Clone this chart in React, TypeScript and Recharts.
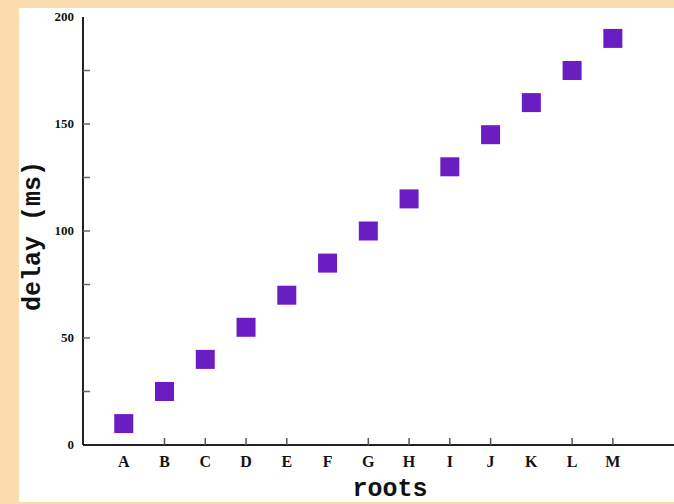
import { ScatterChart, Scatter, XAxis, YAxis } from "recharts";

// categories and measured delay (ms)
const roots = ["A", "B", "C", "D", "E", "F", "G", "H", "I", "J", "K", "L", "M"];
const delays = [10, 25, 40, 55, 70, 85, 100, 115, 130, 145, 160, 175, 190];

// axis ticks
const xTicks = [1, 2, 3, 4, 5, 6, 7, 8, 9, 10, 11, 12, 13];
const xTickMarks = ["B", "C", "D", "E", "G", "H", "I", "J", "L", "M"];
const yTicks = [0, 25, 50, 75, 100, 125, 150, 175, 200];
const yLabels = [0, 50, 100, 150, 200];

const data = roots.map((r, i) => ({ x: i + 1, y: delays[i], name: r }));

const AXIS = "#222";
const MARK = "#6a1dc2";

function BottomTick(props: any) {
  const { x, y, payload } = props;
  const name = roots[payload.value - 1];
  return (
    <g>
      {xTickMarks.includes(name) && (
        <line x1={x} x2={x} y1={y} y2={y - 7} stroke="#555" strokeWidth={1.5} />
      )}
      <text
        x={x}
        y={y + 22}
        textAnchor="middle"
        fontFamily="'Liberation Serif', serif"
        fontWeight="bold"
        fontSize={16}
        fill="#111"
      >
        {name}
      </text>
    </g>
  );
}

function TopTick(props: any) {
  const { x, y, payload } = props;
  const name = roots[payload.value - 1];
  if (!xTickMarks.includes(name)) return <g />;
  return <line x1={x} x2={x} y1={y} y2={y + 7} stroke="#555" strokeWidth={1.5} />;
}

function LeftTick(props: any) {
  const { x, y, payload } = props;
  const v = payload.value;
  return (
    <g>
      {v > 0 && v < 200 && (
        <line x1={x} x2={x + 7} y1={y} y2={y} stroke="#666" strokeWidth={1.5} />
      )}
      {yLabels.includes(v) && (
        <text
          x={x - 9}
          y={y + 4}
          textAnchor="end"
          fontFamily="'Liberation Serif', serif"
          fontWeight="bold"
          fontSize={13}
          fill="#111"
        >
          {v}
        </text>
      )}
    </g>
  );
}

function YTitle() {
  return (
    <text
      x={40}
      y={236}
      transform="rotate(-90 40 236)"
      textAnchor="middle"
      fontFamily="'Liberation Mono', monospace"
      fontWeight="bold"
      fontSize={25}
      fill="#111"
    >
      delay (ms)
    </text>
  );
}

function XTitle() {
  return (
    <text
      x={390}
      y={496}
      textAnchor="middle"
      fontFamily="'Liberation Mono', monospace"
      fontWeight="bold"
      fontSize={25}
      fill="#111"
    >
      roots
    </text>
  );
}

function Square(props: any) {
  const { cx, cy } = props;
  return <rect x={cx - 9.5} y={cy - 9.5} width={19} height={19} fill={MARK} />;
}

export default function App() {
  return (
    <div
      style={{
        position: "absolute",
        left: 0,
        top: 0,
        width: 674,
        height: 504,
        background: "#fbdcae",
        overflow: "hidden",
      }}
    >
      <div
        style={{
          position: "absolute",
          left: 19,
          top: 8,
          width: 655,
          height: 494,
          background: "#fff",
        }}
      />
      <div style={{ position: "absolute", left: 0, top: 0 }}>
        <ScatterChart
          width={674}
          height={504}
          margin={{ top: 17, right: 0, bottom: 0, left: 0 }}
        >
          <XAxis
            type="number"
            dataKey="x"
            domain={[0, 14.5]}
            ticks={xTicks}
            interval={0}
            height={59}
            tickSize={0}
            tickMargin={0}
            tickLine={false}
            tick={<BottomTick />}
            axisLine={{ stroke: AXIS, strokeWidth: 2 }}
            label={<XTitle />}
          />
          <XAxis
            xAxisId="top"
            orientation="top"
            type="number"
            dataKey="x"
            domain={[0, 14.5]}
            ticks={xTicks}
            interval={0}
            height={0}
            tickSize={0}
            tickMargin={0}
            tickLine={false}
            tick={<TopTick />}
            axisLine={{ stroke: AXIS, strokeWidth: 2 }}
          />
          <YAxis
            type="number"
            dataKey="y"
            domain={[0, 200]}
            ticks={yTicks}
            interval={0}
            width={83}
            tickSize={0}
            tickMargin={0}
            tickLine={false}
            tick={<LeftTick />}
            axisLine={{ stroke: AXIS, strokeWidth: 2 }}
            label={<YTitle />}
          />
          <Scatter data={data} shape={<Square />} isAnimationActive={false} />
        </ScatterChart>
      </div>
    </div>
  );
}
